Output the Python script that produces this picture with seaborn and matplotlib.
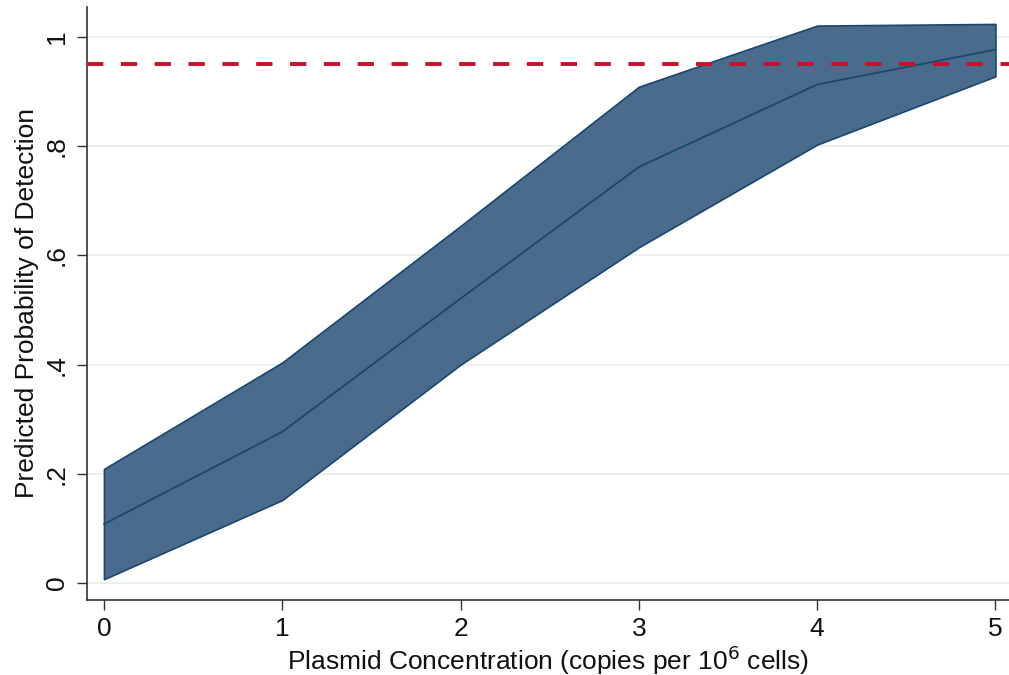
import matplotlib
matplotlib.use("Agg")
import matplotlib.pyplot as plt
import seaborn as sns
import pandas as pd

# Data
concentration = [0, 1, 2, 3, 4, 5]
predicted = [0.108, 0.277, 0.521, 0.762, 0.913, 0.977]
ci_lower = [0.007, 0.152, 0.400, 0.615, 0.803, 0.928]
ci_upper = [0.209, 0.404, 0.654, 0.909, 1.021, 1.024]
threshold = 0.95
x_ticks = [0, 1, 2, 3, 4, 5]
y_ticks = [0, 0.2, 0.4, 0.6, 0.8, 1.0]
y_tick_labels = ["0", ".2", ".4", ".6", ".8", "1"]

sns.set_theme(style="white")
plt.rcParams['font.family'] = ['Liberation Sans', 'DejaVu Sans']

df = pd.DataFrame({"x": concentration, "y": predicted, "lo": ci_lower, "hi": ci_upper})

fig = plt.figure(figsize=(10.09, 6.75), dpi=100)
ax = fig.add_axes([87/1009, 75/675, 1 - 87/1009, (600-7)/675])

navy = "#1a476f"
fill = "#4a6b8b"

for yt in y_ticks:
    ax.axhline(yt, color="#e8f0f3", lw=1.5, zorder=0)

ax.fill_between(df["x"], df["lo"], df["hi"], facecolor=fill, edgecolor=navy, lw=1.2, zorder=2)
sns.lineplot(data=df, x="x", y="y", color=navy, lw=1.3, ax=ax, zorder=3)
ax.axhline(threshold, color="#c8102e", lw=2.8, linestyle=(0, (4.2, 4.5)), zorder=4)

ax.set_xlim(-0.095, 5.076)
ax.set_ylim(-0.031, 1.055)
ax.set_xticks(x_ticks)
ax.set_xticklabels([str(v) for v in x_ticks])
ax.set_yticks(y_ticks)
ax.set_yticklabels(y_tick_labels, rotation=90, va="center")

for s in ["top", "right"]:
    ax.spines[s].set_visible(False)
for s in ["left", "bottom"]:
    ax.spines[s].set_color("#333333")
    ax.spines[s].set_linewidth(1.2)

ax.tick_params(axis="both", direction="out", length=7, width=1.0, color="#333333",
               labelsize=19, labelcolor="#111111", left=True, bottom=True)
ax.tick_params(axis="y", pad=6)
ax.tick_params(axis="x", pad=5)

ax.set_xlabel("Plasmid Concentration (copies per 10$^{6}$ cells)", fontsize=19, color="#111111", labelpad=2)
ax.set_ylabel("Predicted Probability of Detection", fontsize=19, color="#111111", labelpad=4)

fig.savefig("out.png", dpi=100)
